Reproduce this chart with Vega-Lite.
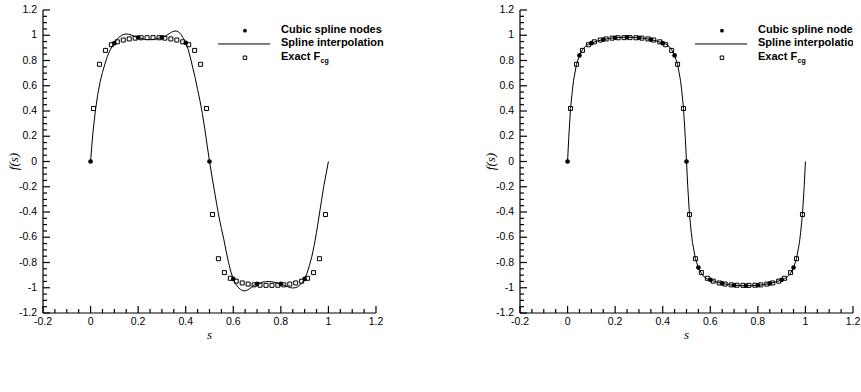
{
  "$schema": "https://vega.github.io/schema/vega-lite/v6.json",
  "padding": {"left": 7, "top": 5, "right": 0, "bottom": 0},
  "background": "white",
  "bounds": "flush",
  "spacing": 144,
  "config": {
    "view": {"stroke": "transparent", "strokeWidth": 0, "fill": "transparent"}
  },
  "datasets": {
    "xMajor": [{"v": -0.2}, {"v": 0}, {"v": 0.2}, {"v": 0.4}, {"v": 0.6}, {"v": 0.8}, {"v": 1}, {"v": 1.2}],
    "xMinor": [{"v": -0.15}, {"v": -0.1}, {"v": -0.05}, {"v": 0.05}, {"v": 0.1}, {"v": 0.15}, {"v": 0.25}, {"v": 0.3}, {"v": 0.35}, {"v": 0.45}, {"v": 0.5}, {"v": 0.55}, {"v": 0.65}, {"v": 0.7}, {"v": 0.75}, {"v": 0.85}, {"v": 0.9}, {"v": 0.95}, {"v": 1.05}, {"v": 1.1}, {"v": 1.15}],
    "yMajor": [{"v": -1.2}, {"v": -1}, {"v": -0.8}, {"v": -0.6}, {"v": -0.4}, {"v": -0.2}, {"v": 0}, {"v": 0.2}, {"v": 0.4}, {"v": 0.6}, {"v": 0.8}, {"v": 1}, {"v": 1.2}],
    "yMinor": [{"v": -1.15}, {"v": -1.1}, {"v": -1.05}, {"v": -0.95}, {"v": -0.9}, {"v": -0.85}, {"v": -0.75}, {"v": -0.7}, {"v": -0.65}, {"v": -0.55}, {"v": -0.5}, {"v": -0.45}, {"v": -0.35}, {"v": -0.3}, {"v": -0.25}, {"v": -0.15}, {"v": -0.1}, {"v": -0.05}, {"v": 0.05}, {"v": 0.1}, {"v": 0.15}, {"v": 0.25}, {"v": 0.3}, {"v": 0.35}, {"v": 0.45}, {"v": 0.5}, {"v": 0.55}, {"v": 0.65}, {"v": 0.7}, {"v": 0.75}, {"v": 0.85}, {"v": 0.9}, {"v": 0.95}, {"v": 1.05}, {"v": 1.1}, {"v": 1.15}],
    "exact": [
      {"s": 0.0125, "f": 0.42}, {"s": 0.0375, "f": 0.77}, {"s": 0.0625, "f": 0.88}, {"s": 0.0875, "f": 0.925},
      {"s": 0.1125, "f": 0.948}, {"s": 0.1375, "f": 0.962}, {"s": 0.1625, "f": 0.971}, {"s": 0.1875, "f": 0.977},
      {"s": 0.2125, "f": 0.98}, {"s": 0.2375, "f": 0.981}, {"s": 0.2625, "f": 0.981}, {"s": 0.2875, "f": 0.98},
      {"s": 0.3125, "f": 0.977}, {"s": 0.3375, "f": 0.971}, {"s": 0.3625, "f": 0.962}, {"s": 0.3875, "f": 0.948},
      {"s": 0.4125, "f": 0.925}, {"s": 0.4375, "f": 0.88}, {"s": 0.4625, "f": 0.77}, {"s": 0.4875, "f": 0.42},
      {"s": 0.5125, "f": -0.42}, {"s": 0.5375, "f": -0.77}, {"s": 0.5625, "f": -0.88}, {"s": 0.5875, "f": -0.925},
      {"s": 0.6125, "f": -0.948}, {"s": 0.6375, "f": -0.962}, {"s": 0.6625, "f": -0.971}, {"s": 0.6875, "f": -0.977},
      {"s": 0.7125, "f": -0.98}, {"s": 0.7375, "f": -0.981}, {"s": 0.7625, "f": -0.981}, {"s": 0.7875, "f": -0.98},
      {"s": 0.8125, "f": -0.977}, {"s": 0.8375, "f": -0.971}, {"s": 0.8625, "f": -0.962}, {"s": 0.8875, "f": -0.948},
      {"s": 0.9125, "f": -0.925}, {"s": 0.9375, "f": -0.88}, {"s": 0.9625, "f": -0.77}, {"s": 0.9875, "f": -0.42}
    ],
    "nodesA": [
      {"s": 0, "f": 0}, {"s": 0.1, "f": 0.937}, {"s": 0.2, "f": 0.982}, {"s": 0.3, "f": 0.983}, {"s": 0.4, "f": 0.94},
      {"s": 0.5, "f": 0}, {"s": 0.6, "f": -0.93}, {"s": 0.7, "f": -0.97}, {"s": 0.8, "f": -0.97}, {"s": 0.9, "f": -0.93}
    ],
    "splineA": [
      {"s": 0, "f": 0}, {"s": 0.005, "f": 0.12}, {"s": 0.01, "f": 0.23}, {"s": 0.02, "f": 0.4}, {"s": 0.03, "f": 0.53},
      {"s": 0.04, "f": 0.63}, {"s": 0.05, "f": 0.705}, {"s": 0.06, "f": 0.77}, {"s": 0.07, "f": 0.83}, {"s": 0.08, "f": 0.875},
      {"s": 0.09, "f": 0.91}, {"s": 0.1, "f": 0.94}, {"s": 0.11, "f": 0.965}, {"s": 0.12, "f": 0.985}, {"s": 0.13, "f": 0.999},
      {"s": 0.14, "f": 1.007}, {"s": 0.15, "f": 1.01}, {"s": 0.16, "f": 1.008}, {"s": 0.17, "f": 1.002}, {"s": 0.18, "f": 0.995},
      {"s": 0.19, "f": 0.988}, {"s": 0.2, "f": 0.982}, {"s": 0.21, "f": 0.976}, {"s": 0.22, "f": 0.971}, {"s": 0.23, "f": 0.967},
      {"s": 0.24, "f": 0.965}, {"s": 0.25, "f": 0.965}, {"s": 0.26, "f": 0.966}, {"s": 0.27, "f": 0.969}, {"s": 0.28, "f": 0.973},
      {"s": 0.29, "f": 0.978}, {"s": 0.3, "f": 0.983}, {"s": 0.31, "f": 0.99}, {"s": 0.32, "f": 1.0}, {"s": 0.33, "f": 1.012},
      {"s": 0.34, "f": 1.024}, {"s": 0.35, "f": 1.032}, {"s": 0.36, "f": 1.034}, {"s": 0.37, "f": 1.026}, {"s": 0.38, "f": 1.006},
      {"s": 0.39, "f": 0.976}, {"s": 0.4, "f": 0.94}, {"s": 0.41, "f": 0.89}, {"s": 0.42, "f": 0.82}, {"s": 0.43, "f": 0.74},
      {"s": 0.44, "f": 0.66}, {"s": 0.45, "f": 0.57}, {"s": 0.46, "f": 0.48}, {"s": 0.47, "f": 0.38}, {"s": 0.48, "f": 0.26},
      {"s": 0.49, "f": 0.13}, {"s": 0.5, "f": 0}, {"s": 0.51, "f": -0.115}, {"s": 0.52, "f": -0.225}, {"s": 0.53, "f": -0.335},
      {"s": 0.54, "f": -0.44}, {"s": 0.55, "f": -0.53}, {"s": 0.56, "f": -0.615}, {"s": 0.57, "f": -0.71}, {"s": 0.58, "f": -0.8},
      {"s": 0.59, "f": -0.875}, {"s": 0.6, "f": -0.93}, {"s": 0.61, "f": -0.97}, {"s": 0.62, "f": -0.995}, {"s": 0.63, "f": -1.013},
      {"s": 0.64, "f": -1.023}, {"s": 0.65, "f": -1.025}, {"s": 0.66, "f": -1.018}, {"s": 0.67, "f": -1.005}, {"s": 0.68, "f": -0.99},
      {"s": 0.69, "f": -0.978}, {"s": 0.7, "f": -0.97}, {"s": 0.71, "f": -0.963}, {"s": 0.72, "f": -0.957}, {"s": 0.73, "f": -0.953},
      {"s": 0.74, "f": -0.951}, {"s": 0.75, "f": -0.951}, {"s": 0.76, "f": -0.952}, {"s": 0.77, "f": -0.955}, {"s": 0.78, "f": -0.959},
      {"s": 0.79, "f": -0.964}, {"s": 0.8, "f": -0.97}, {"s": 0.81, "f": -0.977}, {"s": 0.82, "f": -0.985}, {"s": 0.83, "f": -0.993},
      {"s": 0.84, "f": -0.999}, {"s": 0.85, "f": -1.002}, {"s": 0.86, "f": -1.0}, {"s": 0.87, "f": -0.993}, {"s": 0.88, "f": -0.978},
      {"s": 0.89, "f": -0.958}, {"s": 0.9, "f": -0.93}, {"s": 0.91, "f": -0.885}, {"s": 0.92, "f": -0.825}, {"s": 0.93, "f": -0.755},
      {"s": 0.94, "f": -0.665}, {"s": 0.95, "f": -0.56}, {"s": 0.96, "f": -0.44}, {"s": 0.97, "f": -0.32}, {"s": 0.98, "f": -0.2},
      {"s": 0.99, "f": -0.1}, {"s": 1.0, "f": 0}
    ],
    "nodesB": [
      {"s": 0, "f": 0}, {"s": 0.05, "f": 0.84}, {"s": 0.1, "f": 0.937}, {"s": 0.15, "f": 0.966}, {"s": 0.2, "f": 0.98},
      {"s": 0.25, "f": 0.984}, {"s": 0.3, "f": 0.98}, {"s": 0.35, "f": 0.966}, {"s": 0.4, "f": 0.937}, {"s": 0.45, "f": 0.84},
      {"s": 0.5, "f": 0}, {"s": 0.55, "f": -0.84}, {"s": 0.6, "f": -0.937}, {"s": 0.65, "f": -0.966}, {"s": 0.7, "f": -0.98},
      {"s": 0.75, "f": -0.984}, {"s": 0.8, "f": -0.98}, {"s": 0.85, "f": -0.966}, {"s": 0.9, "f": -0.937}, {"s": 0.95, "f": -0.84}
    ],
    "splineB": [
      {"s": 0, "f": 0}, {"s": 0.005, "f": 0.19}, {"s": 0.0125, "f": 0.42}, {"s": 0.02, "f": 0.56}, {"s": 0.025, "f": 0.64},
      {"s": 0.0375, "f": 0.77}, {"s": 0.05, "f": 0.84}, {"s": 0.0625, "f": 0.885}, {"s": 0.075, "f": 0.912}, {"s": 0.0875, "f": 0.928},
      {"s": 0.1, "f": 0.938}, {"s": 0.125, "f": 0.954}, {"s": 0.15, "f": 0.966}, {"s": 0.175, "f": 0.975}, {"s": 0.2, "f": 0.98},
      {"s": 0.225, "f": 0.983}, {"s": 0.25, "f": 0.984}, {"s": 0.275, "f": 0.983}, {"s": 0.3, "f": 0.98}, {"s": 0.325, "f": 0.975},
      {"s": 0.35, "f": 0.966}, {"s": 0.375, "f": 0.954}, {"s": 0.4, "f": 0.938}, {"s": 0.4125, "f": 0.93}, {"s": 0.425, "f": 0.915},
      {"s": 0.4375, "f": 0.885}, {"s": 0.45, "f": 0.84}, {"s": 0.4625, "f": 0.77}, {"s": 0.475, "f": 0.64}, {"s": 0.48, "f": 0.56},
      {"s": 0.4875, "f": 0.42}, {"s": 0.495, "f": 0.19}, {"s": 0.5, "f": 0},
      {"s": 0.505, "f": -0.19}, {"s": 0.5125, "f": -0.42}, {"s": 0.52, "f": -0.56}, {"s": 0.525, "f": -0.64},
      {"s": 0.5375, "f": -0.77}, {"s": 0.55, "f": -0.84}, {"s": 0.5625, "f": -0.885}, {"s": 0.575, "f": -0.915}, {"s": 0.5875, "f": -0.93},
      {"s": 0.6, "f": -0.938}, {"s": 0.625, "f": -0.954}, {"s": 0.65, "f": -0.966}, {"s": 0.675, "f": -0.975}, {"s": 0.7, "f": -0.98},
      {"s": 0.725, "f": -0.983}, {"s": 0.75, "f": -0.984}, {"s": 0.775, "f": -0.983}, {"s": 0.8, "f": -0.98}, {"s": 0.825, "f": -0.975},
      {"s": 0.85, "f": -0.966}, {"s": 0.875, "f": -0.954}, {"s": 0.9, "f": -0.938}, {"s": 0.9125, "f": -0.928}, {"s": 0.925, "f": -0.912},
      {"s": 0.9375, "f": -0.885}, {"s": 0.95, "f": -0.84}, {"s": 0.9625, "f": -0.77}, {"s": 0.975, "f": -0.64}, {"s": 0.98, "f": -0.56},
      {"s": 0.9875, "f": -0.42}, {"s": 0.995, "f": -0.19}, {"s": 1.0, "f": 0}
    ]
  },
  "hconcat": [
    {
      "width": 333,
      "height": 303,
      "view": {"stroke": "transparent", "strokeWidth": 0},
      "title": {"text": "(a) 𝑛𝑑\u2002−\u20021\u2002=\u200210 design points", "orient": "bottom", "frame": "group", "font": "'Liberation Serif', 'DejaVu Serif', serif", "fontSize": 23, "fontWeight": "normal", "color": "black", "offset": 49},
      "layer": [
        {
          "data": {"name": "splineA"},
          "mark": {"type": "line", "color": "black", "strokeWidth": 1},
          "encoding": {
            "x": {"field": "s", "type": "quantitative", "scale": {"domain": [-0.2, 1.2], "nice": false, "zero": false}, "axis": null},
            "y": {"field": "f", "type": "quantitative", "scale": {"domain": [-1.2, 1.2], "nice": false, "zero": false}, "axis": null}
          }
        },
        {"data": {"values": [{}]}, "mark": {"type": "rule", "color": "black", "strokeWidth": 1.2, "opacity": 1},
         "encoding": {"x": {"datum": -0.2, "axis": null}, "y": {"datum": -1.2, "axis": null}, "y2": {"datum": 1.2}}},
        {"data": {"values": [{}]}, "mark": {"type": "rule", "color": "black", "strokeWidth": 1.2, "opacity": 1},
         "encoding": {"y": {"datum": -1.2, "axis": null}, "x": {"datum": -0.2, "axis": null}, "x2": {"datum": 1.2}}},
        {"data": {"name": "xMajor"}, "mark": {"type": "tick", "orient": "vertical", "size": 7, "thickness": 1.2, "color": "black", "opacity": 1, "yOffset": -3.5},
         "encoding": {"x": {"field": "v", "type": "quantitative", "axis": null}, "y": {"datum": -1.2, "axis": null}}},
        {"data": {"name": "xMinor"}, "mark": {"type": "tick", "orient": "vertical", "size": 4, "thickness": 1.2, "color": "black", "opacity": 1, "yOffset": -2},
         "encoding": {"x": {"field": "v", "type": "quantitative", "axis": null}, "y": {"datum": -1.2, "axis": null}}},
        {"data": {"name": "yMajor"}, "mark": {"type": "tick", "orient": "horizontal", "size": 7, "thickness": 1.2, "color": "black", "opacity": 1, "xOffset": 3.5},
         "encoding": {"y": {"field": "v", "type": "quantitative", "axis": null}, "x": {"datum": -0.2, "axis": null}}},
        {"data": {"name": "yMinor"}, "mark": {"type": "tick", "orient": "horizontal", "size": 4, "thickness": 1.2, "color": "black", "opacity": 1, "xOffset": 2},
         "encoding": {"y": {"field": "v", "type": "quantitative", "axis": null}, "x": {"datum": -0.2, "axis": null}}},
        {"data": {"name": "xMajor"}, "mark": {"type": "text", "align": "center", "baseline": "top", "dy": 4, "font": "Liberation Sans", "fontSize": 10.5, "color": "black"},
         "encoding": {"x": {"field": "v", "type": "quantitative", "axis": null}, "y": {"datum": -1.2, "axis": null}, "text": {"field": "v", "type": "nominal"}}},
        {"data": {"name": "yMajor"}, "mark": {"type": "text", "align": "right", "baseline": "middle", "dx": -6, "font": "Liberation Sans", "fontSize": 10.5, "color": "black"},
         "encoding": {"y": {"field": "v", "type": "quantitative", "axis": null}, "x": {"datum": -0.2, "axis": null}, "text": {"field": "v", "type": "nominal"}}},
        {"data": {"values": [{}]}, "mark": {"type": "text", "text": "s", "align": "center", "baseline": "middle", "font": "Liberation Serif", "fontStyle": "italic", "fontSize": 13, "color": "black"},
         "encoding": {"x": {"datum": 0.5, "axis": null}, "y": {"datum": -1.374, "axis": null}}},
        {"data": {"values": [{}]}, "mark": {"type": "text", "text": "f(s)", "angle": 270, "align": "center", "baseline": "middle", "font": "Liberation Serif", "fontStyle": "italic", "fontSize": 13, "color": "black"},
         "encoding": {"x": {"datum": -0.322, "axis": null}, "y": {"datum": 0, "axis": null}}},
        {
          "data": {"name": "exact"},
          "mark": {"type": "point", "shape": "square", "filled": false, "stroke": "black", "strokeWidth": 1, "size": 16, "opacity": 1},
          "encoding": {"x": {"field": "s", "type": "quantitative", "axis": null}, "y": {"field": "f", "type": "quantitative", "axis": null}}
        },
        {
          "data": {"name": "nodesA"},
          "mark": {"type": "circle", "color": "black", "size": 22, "opacity": 1},
          "encoding": {"x": {"field": "s", "type": "quantitative", "axis": null}, "y": {"field": "f", "type": "quantitative", "axis": null}}
        },
        {"data": {"values": [{}]}, "mark": {"type": "circle", "color": "black", "size": 14, "opacity": 1},
         "encoding": {"x": {"datum": 0.649, "axis": null}, "y": {"datum": 1.036, "axis": null}}},
        {"data": {"values": [{}]}, "mark": {"type": "rule", "color": "black", "strokeWidth": 1},
         "encoding": {"x": {"datum": 0.536, "axis": null}, "x2": {"datum": 0.755}, "y": {"datum": 0.931, "axis": null}}},
        {"data": {"values": [{}]}, "mark": {"type": "point", "shape": "square", "filled": false, "stroke": "black", "strokeWidth": 1, "size": 12, "opacity": 1},
         "encoding": {"x": {"datum": 0.649, "axis": null}, "y": {"datum": 0.822, "axis": null}}},
        {"data": {"values": [{}]}, "mark": {"type": "text", "text": "Cubic spline nodes", "align": "left", "baseline": "middle", "font": "Liberation Sans", "fontWeight": "bold", "fontSize": 11, "color": "black"},
         "encoding": {"x": {"datum": 0.8006, "axis": null}, "y": {"datum": 1.04, "axis": null}}},
        {"data": {"values": [{}]}, "mark": {"type": "text", "text": "Spline interpolation", "align": "left", "baseline": "middle", "font": "Liberation Sans", "fontWeight": "bold", "fontSize": 11, "color": "black"},
         "encoding": {"x": {"datum": 0.8006, "axis": null}, "y": {"datum": 0.935, "axis": null}}},
        {"data": {"values": [{}]}, "mark": {"type": "text", "text": "Exact F", "align": "left", "baseline": "middle", "font": "Liberation Sans", "fontWeight": "bold", "fontSize": 11, "color": "black"},
         "encoding": {"x": {"datum": 0.8006, "axis": null}, "y": {"datum": 0.83, "axis": null}}},
        {"data": {"values": [{}]}, "mark": {"type": "text", "text": "cg", "align": "left", "baseline": "middle", "font": "Liberation Sans", "fontWeight": "bold", "fontSize": 7, "color": "black", "dx": 39.5, "dy": 4},
         "encoding": {"x": {"datum": 0.8006, "axis": null}, "y": {"datum": 0.83, "axis": null}}}
      ]
    },
    {
      "width": 333,
      "height": 303,
      "view": {"stroke": "transparent", "strokeWidth": 0},
      "title": {"text": "(b) 𝑛𝑑\u2002−\u20021\u2002=\u200220 design points", "orient": "bottom", "frame": "group", "font": "'Liberation Serif', 'DejaVu Serif', serif", "fontSize": 23, "fontWeight": "normal", "color": "black", "offset": 49},
      "layer": [
        {
          "data": {"name": "splineB"},
          "mark": {"type": "line", "color": "black", "strokeWidth": 1},
          "encoding": {
            "x": {"field": "s", "type": "quantitative", "scale": {"domain": [-0.2, 1.2], "nice": false, "zero": false}, "axis": null},
            "y": {"field": "f", "type": "quantitative", "scale": {"domain": [-1.2, 1.2], "nice": false, "zero": false}, "axis": null}
          }
        },
        {"data": {"values": [{}]}, "mark": {"type": "rule", "color": "black", "strokeWidth": 1.2, "opacity": 1},
         "encoding": {"x": {"datum": -0.2, "axis": null}, "y": {"datum": -1.2, "axis": null}, "y2": {"datum": 1.2}}},
        {"data": {"values": [{}]}, "mark": {"type": "rule", "color": "black", "strokeWidth": 1.2, "opacity": 1},
         "encoding": {"y": {"datum": -1.2, "axis": null}, "x": {"datum": -0.2, "axis": null}, "x2": {"datum": 1.2}}},
        {"data": {"name": "xMajor"}, "mark": {"type": "tick", "orient": "vertical", "size": 7, "thickness": 1.2, "color": "black", "opacity": 1, "yOffset": -3.5},
         "encoding": {"x": {"field": "v", "type": "quantitative", "axis": null}, "y": {"datum": -1.2, "axis": null}}},
        {"data": {"name": "xMinor"}, "mark": {"type": "tick", "orient": "vertical", "size": 4, "thickness": 1.2, "color": "black", "opacity": 1, "yOffset": -2},
         "encoding": {"x": {"field": "v", "type": "quantitative", "axis": null}, "y": {"datum": -1.2, "axis": null}}},
        {"data": {"name": "yMajor"}, "mark": {"type": "tick", "orient": "horizontal", "size": 7, "thickness": 1.2, "color": "black", "opacity": 1, "xOffset": 3.5},
         "encoding": {"y": {"field": "v", "type": "quantitative", "axis": null}, "x": {"datum": -0.2, "axis": null}}},
        {"data": {"name": "yMinor"}, "mark": {"type": "tick", "orient": "horizontal", "size": 4, "thickness": 1.2, "color": "black", "opacity": 1, "xOffset": 2},
         "encoding": {"y": {"field": "v", "type": "quantitative", "axis": null}, "x": {"datum": -0.2, "axis": null}}},
        {"data": {"name": "xMajor"}, "mark": {"type": "text", "align": "center", "baseline": "top", "dy": 4, "font": "Liberation Sans", "fontSize": 10.5, "color": "black"},
         "encoding": {"x": {"field": "v", "type": "quantitative", "axis": null}, "y": {"datum": -1.2, "axis": null}, "text": {"field": "v", "type": "nominal"}}},
        {"data": {"name": "yMajor"}, "mark": {"type": "text", "align": "right", "baseline": "middle", "dx": -6, "font": "Liberation Sans", "fontSize": 10.5, "color": "black"},
         "encoding": {"y": {"field": "v", "type": "quantitative", "axis": null}, "x": {"datum": -0.2, "axis": null}, "text": {"field": "v", "type": "nominal"}}},
        {"data": {"values": [{}]}, "mark": {"type": "text", "text": "s", "align": "center", "baseline": "middle", "font": "Liberation Serif", "fontStyle": "italic", "fontSize": 13, "color": "black"},
         "encoding": {"x": {"datum": 0.5, "axis": null}, "y": {"datum": -1.374, "axis": null}}},
        {"data": {"values": [{}]}, "mark": {"type": "text", "text": "f(s)", "angle": 270, "align": "center", "baseline": "middle", "font": "Liberation Serif", "fontStyle": "italic", "fontSize": 13, "color": "black"},
         "encoding": {"x": {"datum": -0.322, "axis": null}, "y": {"datum": 0, "axis": null}}},
        {
          "data": {"name": "exact"},
          "mark": {"type": "point", "shape": "square", "filled": false, "stroke": "black", "strokeWidth": 1, "size": 16, "opacity": 1},
          "encoding": {"x": {"field": "s", "type": "quantitative", "axis": null}, "y": {"field": "f", "type": "quantitative", "axis": null}}
        },
        {
          "data": {"name": "nodesB"},
          "mark": {"type": "circle", "color": "black", "size": 22, "opacity": 1},
          "encoding": {"x": {"field": "s", "type": "quantitative", "axis": null}, "y": {"field": "f", "type": "quantitative", "axis": null}}
        },
        {"data": {"values": [{}]}, "mark": {"type": "circle", "color": "black", "size": 14, "opacity": 1},
         "encoding": {"x": {"datum": 0.649, "axis": null}, "y": {"datum": 1.036, "axis": null}}},
        {"data": {"values": [{}]}, "mark": {"type": "rule", "color": "black", "strokeWidth": 1},
         "encoding": {"x": {"datum": 0.536, "axis": null}, "x2": {"datum": 0.755}, "y": {"datum": 0.931, "axis": null}}},
        {"data": {"values": [{}]}, "mark": {"type": "point", "shape": "square", "filled": false, "stroke": "black", "strokeWidth": 1, "size": 12, "opacity": 1},
         "encoding": {"x": {"datum": 0.649, "axis": null}, "y": {"datum": 0.822, "axis": null}}},
        {"data": {"values": [{}]}, "mark": {"type": "text", "text": "Cubic spline nodes", "align": "left", "baseline": "middle", "font": "Liberation Sans", "fontWeight": "bold", "fontSize": 11, "color": "black", "clip": true},
         "encoding": {"x": {"datum": 0.8006, "axis": null}, "y": {"datum": 1.04, "axis": null}}},
        {"data": {"values": [{}]}, "mark": {"type": "text", "text": "Spline interpolation", "align": "left", "baseline": "middle", "font": "Liberation Sans", "fontWeight": "bold", "fontSize": 11, "color": "black", "clip": true},
         "encoding": {"x": {"datum": 0.8006, "axis": null}, "y": {"datum": 0.935, "axis": null}}},
        {"data": {"values": [{}]}, "mark": {"type": "text", "text": "Exact F", "align": "left", "baseline": "middle", "font": "Liberation Sans", "fontWeight": "bold", "fontSize": 11, "color": "black", "clip": true},
         "encoding": {"x": {"datum": 0.8006, "axis": null}, "y": {"datum": 0.83, "axis": null}}},
        {"data": {"values": [{}]}, "mark": {"type": "text", "text": "cg", "align": "left", "baseline": "middle", "font": "Liberation Sans", "fontWeight": "bold", "fontSize": 7, "color": "black", "dx": 39.5, "dy": 4, "clip": true},
         "encoding": {"x": {"datum": 0.8006, "axis": null}, "y": {"datum": 0.83, "axis": null}}}
      ]
    }
  ]
}
